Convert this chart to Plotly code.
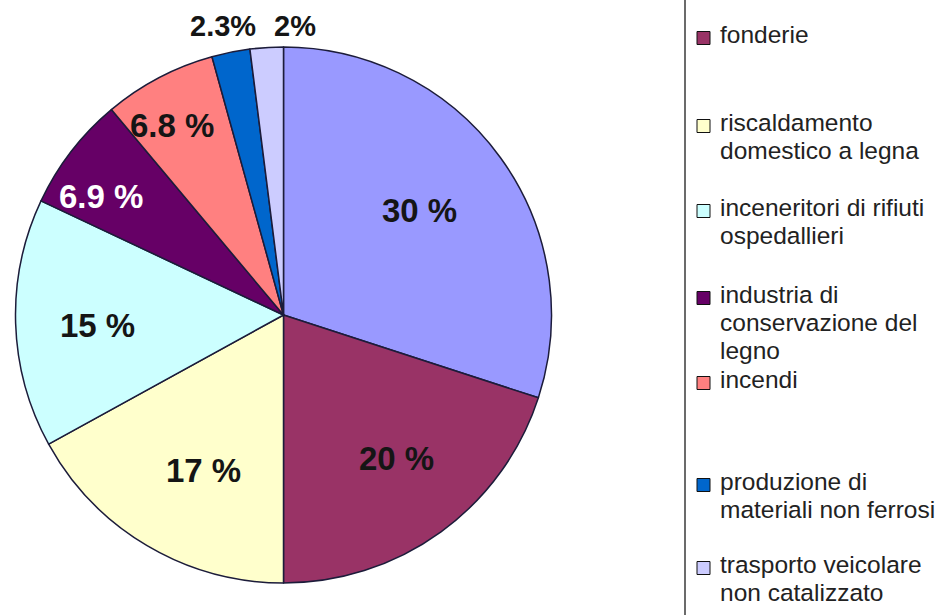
import plotly.graph_objects as go

W, H = 946, 615

# Dioxin emission sources (share of total, %)
categories = ["", "fonderie", "riscaldamento domestico a legna",
              "inceneritori di rifiuti ospedallieri",
              "industria di conservazione del legno", "incendi",
              "produzione di materiali non ferrosi",
              "trasporto veicolare non catalizzato"]
shares = [30, 20, 17, 15, 6.9, 6.8, 2.3, 2]
colors = ["#9999FF", "#993366", "#FFFFCC", "#CCFFFF",
          "#660066", "#FF8080", "#0066CC", "#CCCCFF"]
legend_lines = [[], ["fonderie"], ["riscaldamento", "domestico a legna"],
                ["inceneritori di rifiuti", "ospedallieri"],
                ["industria di", "conservazione del", "legno"],
                ["incendi"], ["produzione di", "materiali non ferrosi"],
                ["trasporto veicolare", "non catalizzato"]]


def fx(p):
    return p / W


def fy(p):
    return 1 - p / H


# pie geometry in pixels
cx, cy, r = 283.5, 315, 268

fig = go.Figure(go.Pie(
    labels=categories,
    values=shares,
    sort=False,
    direction="clockwise",
    rotation=0,
    textinfo="none",
    hoverinfo="label+percent",
    showlegend=False,
    marker=dict(colors=colors, line=dict(color="#1c1c3a", width=1.5)),
    domain=dict(x=[fx(cx - r), fx(cx + r)], y=[fy(cy + r), fy(cy - r)]),
))

# slice value labels
label_xy = [(419, 210), (396, 458), (203, 470), (97, 325),
            (101, 196), (172, 126), (223, 26), (295, 26)]
label_sep = [" ", " ", " ", " ", " ", " ", "", ""]
label_size = [33, 33, 33, 33, 33, 33, 29, 29]
label_color = ["#151515", "#151515", "#151515", "#151515", "#ffffff",
               "#151515", "#151515", "#151515"]

annotations = []
for v, (px, py), sep, sz, col in zip(shares, label_xy, label_sep, label_size, label_color):
    annotations.append(dict(
        x=fx(px), y=fy(py), xref="paper", yref="paper",
        text=f"{v:g}{sep}%", showarrow=False,
        xanchor="center", yanchor="middle",
        font=dict(family="Liberation Sans, Arial, sans-serif", size=sz,
                  color=col, weight="bold"),
    ))

# legend, drawn by hand
shapes = [dict(type="line", xref="paper", yref="paper",
               x0=fx(685), x1=fx(685), y0=0, y1=1,
               line=dict(color="#3a3a3a", width=1.5))]

entry_baseline = [None, 43, 131, 216, 303, 388, 490, 573]
line_step = 28
leg_size = 24.5
for lines, col, base in zip(legend_lines, colors, entry_baseline):
    if not lines:
        continue
    sq = 13
    sc = base - 5
    shapes.append(dict(type="rect", xref="paper", yref="paper",
                       x0=fx(697), x1=fx(697 + sq),
                       y0=fy(sc + sq / 2), y1=fy(sc - sq / 2),
                       fillcolor=col, line=dict(color="#111", width=1)))
    for i, txt in enumerate(lines):
        b = base + i * line_step
        annotations.append(dict(
            x=fx(718), y=fy(b - 0.3465 * leg_size), xref="paper", yref="paper",
            text=txt, showarrow=False, xanchor="left", yanchor="middle",
            font=dict(family="Liberation Sans, Arial, sans-serif",
                      size=leg_size, color="#222"),
        ))

fig.update_layout(
    width=W, height=H,
    margin=dict(l=0, r=0, t=0, b=0),
    paper_bgcolor="white", plot_bgcolor="white",
    annotations=annotations, shapes=shapes,
)

fig.write_html("out.html")
